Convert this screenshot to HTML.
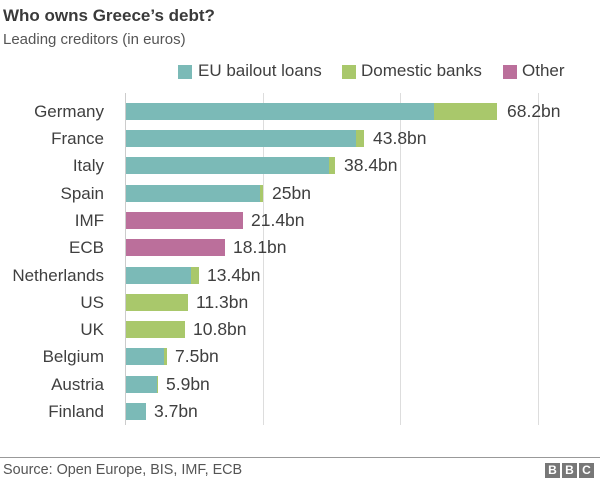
<!DOCTYPE html>
<html><head><style>
body{margin:0;width:600px;height:486px;background:#fff;position:relative;overflow:hidden;font-family:"Liberation Sans",Arial,sans-serif;color:#404040}
div{position:absolute;white-space:nowrap}
.l{width:120px;left:-16px;text-align:right;font-size:17px;line-height:17px;color:#3f3f3f}
.v{font-size:17.5px;line-height:17px;color:#3f3f3f}
.b{height:17px}
.t{background:#7bbab7}.g{background:#a9c86b}.p{background:#bb6f9b}
.grid{width:1px;background:#ddd;top:93px;height:332px}
.lg{font-size:17px;top:61px;color:#3f3f3f}
</style></head><body>
<div style="left:3px;top:6px;font-size:17px;font-weight:bold;color:#3a3a3a">Who owns Greece’s debt?</div>
<div style="left:3px;top:31px;font-size:15px;color:#555">Leading creditors (in euros)</div>
<div style="left:178px;top:65px;width:14px;height:14px" class="t"></div>
<div class="lg" style="left:198px">EU bailout loans</div>
<div style="left:342px;top:65px;width:14px;height:14px" class="g"></div>
<div class="lg" style="left:361px">Domestic banks</div>
<div style="left:503px;top:65px;width:14px;height:14px" class="p"></div>
<div class="lg" style="left:522px">Other</div>
<div class="grid" style="left:125px;background:#ccc"></div>
<div class="grid" style="left:263px"></div>
<div class="grid" style="left:400px"></div>
<div class="grid" style="left:538px"></div>

<div class="l" style="top:103px">Germany</div>
<div class="b t" style="left:126px;top:103px;width:308px"></div><div class="b g" style="left:434px;top:103px;width:63px"></div>
<div class="v" style="left:507px;top:103px">68.2bn</div>

<div class="l" style="top:130px">France</div>
<div class="b t" style="left:126px;top:130px;width:230px"></div><div class="b g" style="left:356px;top:130px;width:8px"></div>
<div class="v" style="left:373px;top:130px">43.8bn</div>

<div class="l" style="top:157px">Italy</div>
<div class="b t" style="left:126px;top:157px;width:203px"></div><div class="b g" style="left:329px;top:157px;width:6px"></div>
<div class="v" style="left:344px;top:157px">38.4bn</div>

<div class="l" style="top:185px">Spain</div>
<div class="b t" style="left:126px;top:185px;width:134px"></div><div class="b g" style="left:260px;top:185px;width:3px"></div>
<div class="v" style="left:272px;top:185px">25bn</div>

<div class="l" style="top:212px">IMF</div>
<div class="b p" style="left:126px;top:212px;width:117px"></div>
<div class="v" style="left:251px;top:212px">21.4bn</div>

<div class="l" style="top:239px">ECB</div>
<div class="b p" style="left:126px;top:239px;width:99px"></div>
<div class="v" style="left:233px;top:239px">18.1bn</div>

<div class="l" style="top:267px">Netherlands</div>
<div class="b t" style="left:126px;top:267px;width:65px"></div><div class="b g" style="left:191px;top:267px;width:8px"></div>
<div class="v" style="left:207px;top:267px">13.4bn</div>

<div class="l" style="top:294px">US</div>
<div class="b g" style="left:126px;top:294px;width:62px"></div>
<div class="v" style="left:196px;top:294px">11.3bn</div>

<div class="l" style="top:321px">UK</div>
<div class="b g" style="left:126px;top:321px;width:59px"></div>
<div class="v" style="left:193px;top:321px">10.8bn</div>

<div class="l" style="top:348px">Belgium</div>
<div class="b t" style="left:126px;top:348px;width:38px"></div><div class="b g" style="left:164px;top:348px;width:3px"></div>
<div class="v" style="left:175px;top:348px">7.5bn</div>

<div class="l" style="top:376px">Austria</div>
<div class="b t" style="left:126px;top:376px;width:31px"></div><div class="b g" style="left:157px;top:376px;width:1px"></div>
<div class="v" style="left:166px;top:376px">5.9bn</div>

<div class="l" style="top:403px">Finland</div>
<div class="b t" style="left:126px;top:403px;width:20px"></div>
<div class="v" style="left:154px;top:403px">3.7bn</div>

<div style="left:0;top:457px;width:600px;height:1px;background:#999"></div>
<div style="left:3px;top:462px;font-size:14.4px;color:#555">Source: Open Europe, BIS, IMF, ECB</div>
<div style="left:545px;top:463px;width:15px;height:15px;background:#777;color:#fff;font-size:12px;font-weight:bold;text-align:center;line-height:15px">B</div>
<div style="left:562px;top:463px;width:15px;height:15px;background:#777;color:#fff;font-size:12px;font-weight:bold;text-align:center;line-height:15px">B</div>
<div style="left:579px;top:463px;width:15px;height:15px;background:#777;color:#fff;font-size:12px;font-weight:bold;text-align:center;line-height:15px">C</div>
</body></html>
